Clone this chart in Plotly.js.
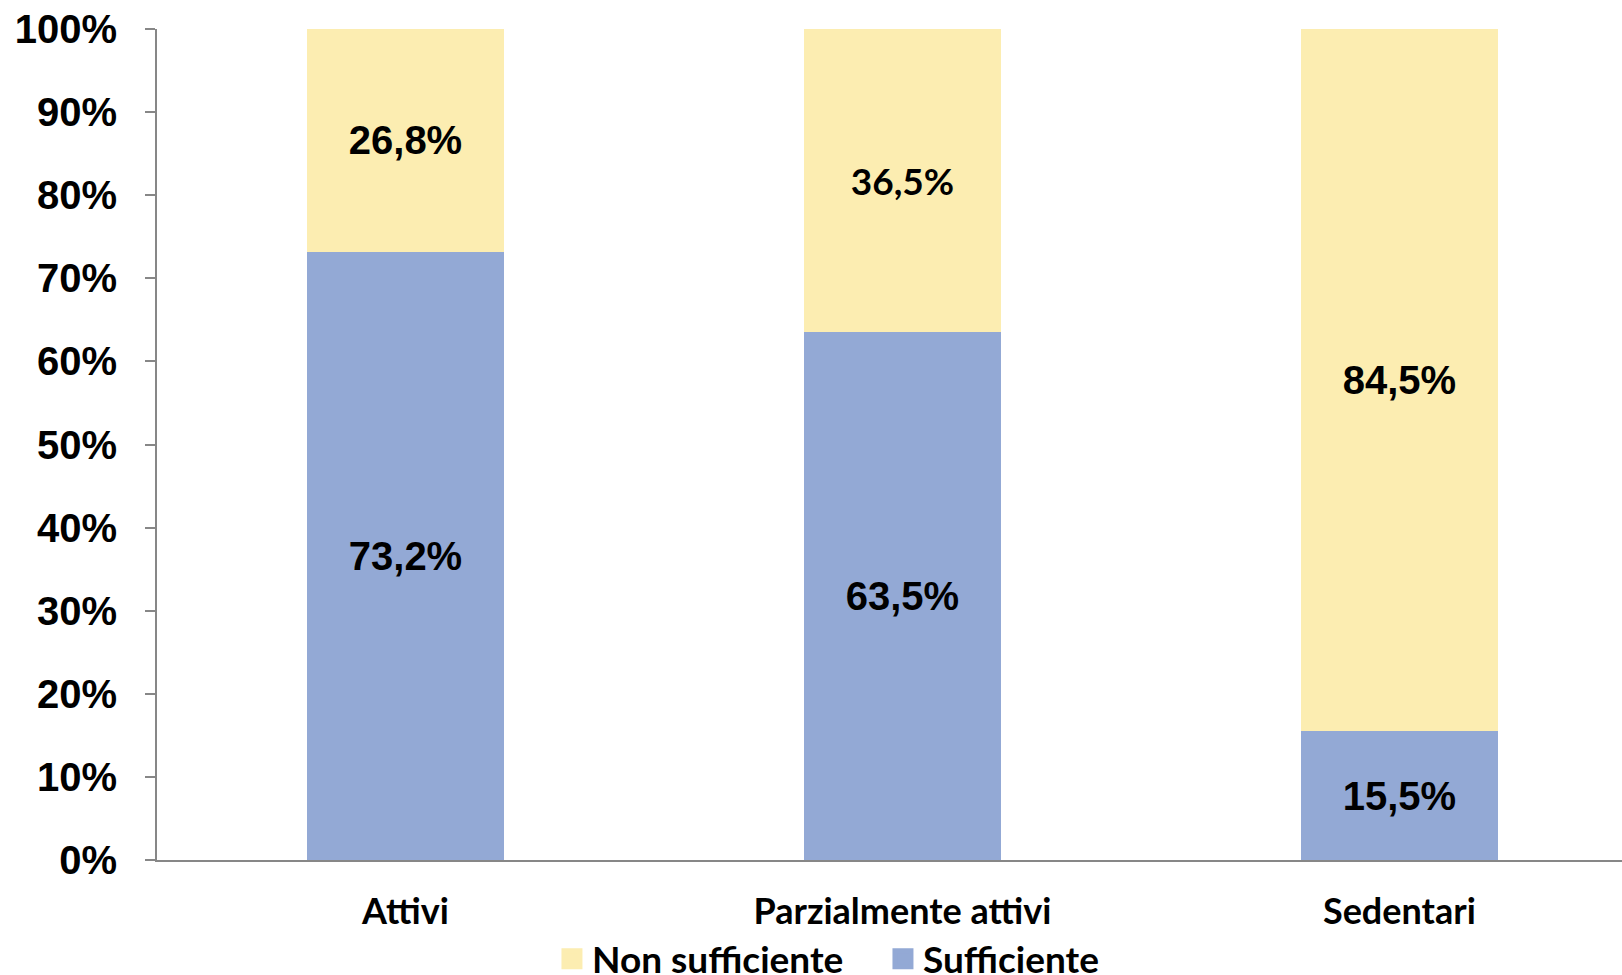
<!DOCTYPE html>
<html>
<head>
<meta charset="utf-8">
<script src="https://cdn.plot.ly/plotly-3.0.1.min.js"></script>
<style>
  html, body { margin: 0; padding: 0; background: #ffffff; }
  #chart { width: 1622px; height: 975px; }
</style>
</head>
<body>
<div id="chart"></div>
<script>
// Activity groups on the x axis
const categories = ['Attivi', 'Parzialmente attivi', 'Sedentari'];
// Share (%) in each group
const sufficiente = [73.2, 63.5, 15.5];
const nonSufficiente = [26.8, 36.5, 84.5];
const seriesNames = ['Sufficiente', 'Non sufficiente'];
const yTicks = [0, 10, 20, 30, 40, 50, 60, 70, 80, 90, 100];
const yTickLabels = yTicks.map(v => v + '%');

const BLUE = '#93a9d5';
const YELLOW = '#fcedb1';
const ARIAL = 'Liberation Sans, Arial, sans-serif';
const CAL = 'Lato, Noto Sans, sans-serif';

function barTrace(name, values, color, families, sizes) {
  return {
    type: 'bar',
    name: name,
    x: categories,
    y: values,
    marker: { color: color, line: { width: 0 } },
    texttemplate: '%{y:.1f}%',
    textposition: 'inside',
    insidetextanchor: 'middle',
    textangle: 0,
    constraintext: 'none',
    textfont: { family: families, size: sizes, color: '#000000', weight: 'bold' },
    showlegend: false,
    hoverinfo: 'skip'
  };
}

// Legend swatches (square markers give a larger key than the bar default)
function legendKey(name, color) {
  return {
    type: 'scatter',
    mode: 'markers',
    name: name,
    x: [null],
    y: [null],
    marker: { symbol: 'square', size: 16, color: color, line: { width: 5, color: color } },
    showlegend: true,
    hoverinfo: 'skip'
  };
}

const data = [
  barTrace(seriesNames[0], sufficiente, BLUE, [ARIAL, ARIAL, ARIAL], [40, 40, 40]),
  barTrace(seriesNames[1], nonSufficiente, YELLOW, [ARIAL, CAL, ARIAL], [40, 37, 40]),
  legendKey(seriesNames[0], BLUE),
  legendKey(seriesNames[1], YELLOW)
];

const layout = {
  width: 1622,
  height: 975,
  paper_bgcolor: '#ffffff',
  plot_bgcolor: '#ffffff',
  separators: ',.',
  barmode: 'stack',
  bargap: 0.604,
  margin: { l: 157, r: 0, t: 29, b: 115, autoexpand: false },
  showlegend: true,
  legend: {
    orientation: 'h',
    traceorder: 'reversed',
    x: 0.2696,
    xanchor: 'left',
    y: -0.082,
    yanchor: 'top',
    entrywidth: 286,
    entrywidthmode: 'pixels',
    font: { family: CAL, size: 37, color: '#000000', weight: 'bold' },
    bgcolor: 'rgba(0,0,0,0)',
    itemclick: false,
    itemdoubleclick: false
  },
  xaxis: {
    type: 'category',
    range: [-0.5, 2.448],
    showgrid: false,
    zeroline: false,
    showline: true,
    linecolor: '#878787',
    linewidth: 2,
    ticks: '',
    ticklabelstandoff: 19,
    tickfont: { family: CAL, size: 36, color: '#000000', weight: 'bold' },
    fixedrange: true
  },
  yaxis: {
    range: [0, 100],
    tickmode: 'array',
    tickvals: yTicks,
    ticktext: yTickLabels,
    showgrid: false,
    zeroline: false,
    showline: true,
    linecolor: '#878787',
    linewidth: 2,
    ticks: 'outside',
    ticklen: 10,
    tickwidth: 2,
    tickcolor: '#878787',
    ticklabelstandoff: 20,
    tickfont: { family: ARIAL, size: 40, color: '#000000', weight: 'bold' },
    fixedrange: true
  }
};

Plotly.newPlot('chart', data, layout, { displayModeBar: false, staticPlot: true });
</script>
</body>
</html>
